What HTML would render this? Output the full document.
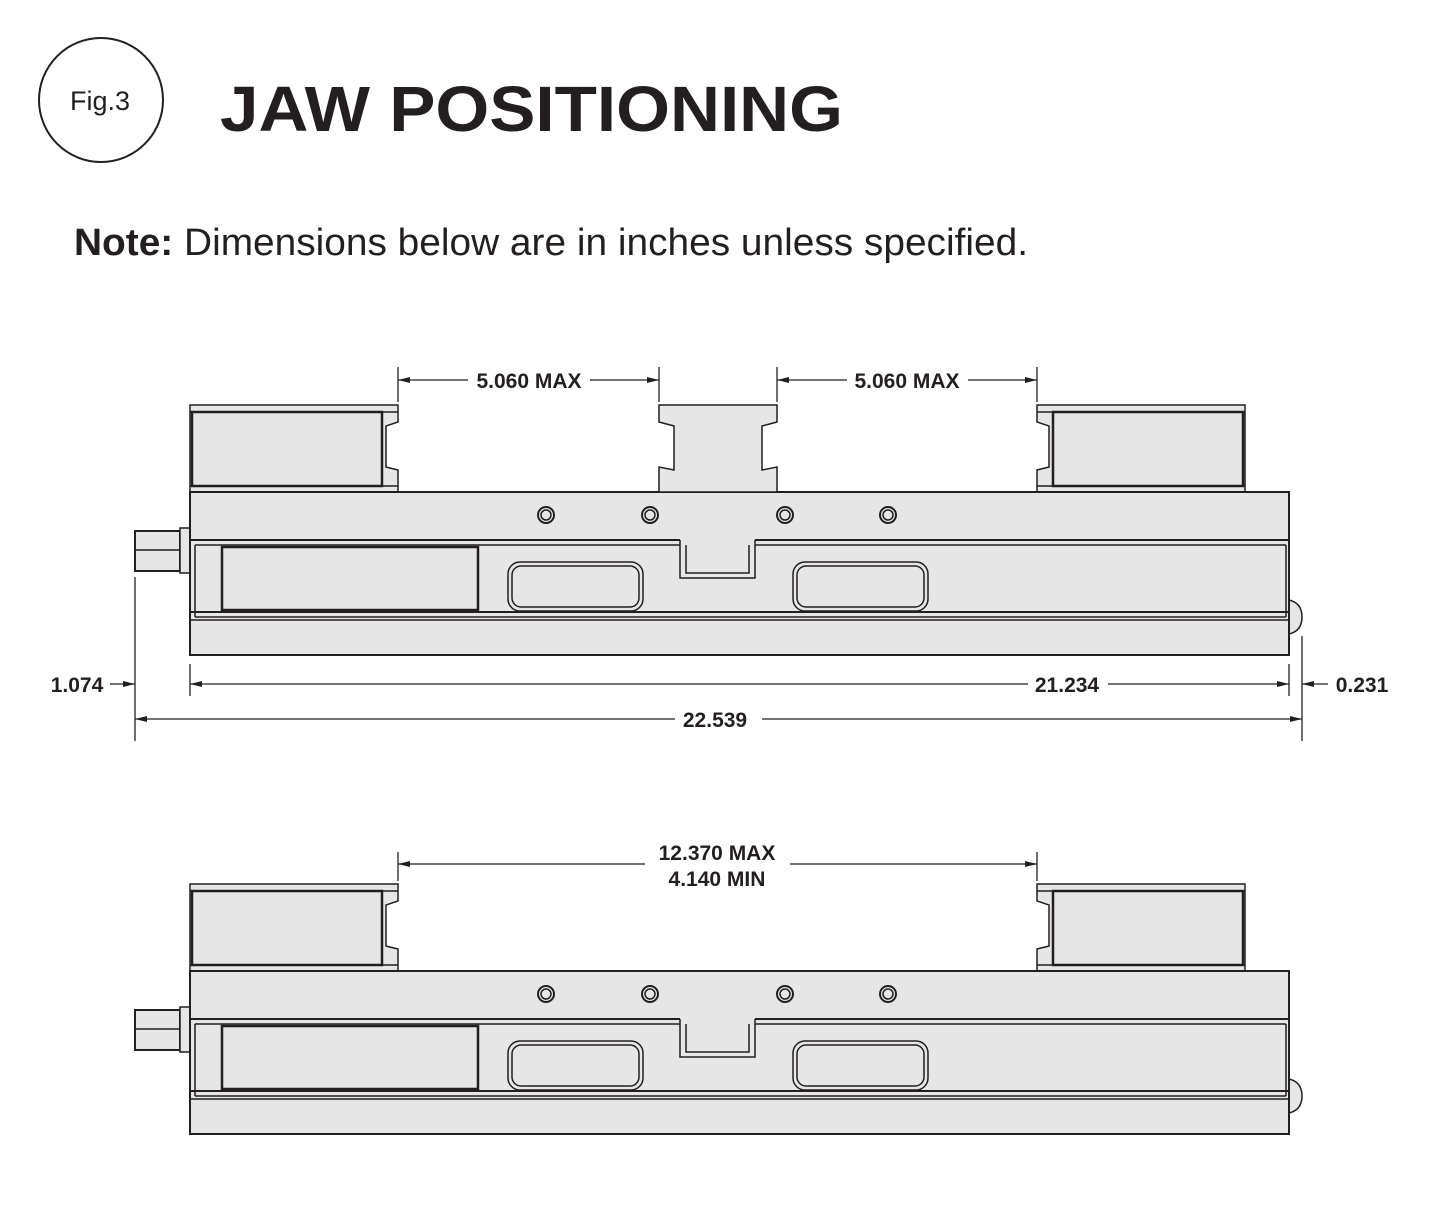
<!DOCTYPE html>
<html><head><meta charset="utf-8"><style>
html,body{margin:0;padding:0;background:#fff;width:1440px;height:1220px;overflow:hidden}
svg{display:block}
.d{font-family:"Liberation Sans",sans-serif;font-weight:bold;font-size:21px;fill:#231f20}
</style></head><body>
<svg width="1440" height="1220" viewBox="0 0 1440 1220" xmlns="http://www.w3.org/2000/svg">
<defs>
<marker id="ar" viewBox="0 0 12 6" refX="12" refY="3" markerWidth="12" markerHeight="6" orient="auto" markerUnits="userSpaceOnUse"><path d="M0,0 L12,3 L0,6 z" fill="#231f20"/></marker>
<g id="vise" stroke="#231f20" fill="#e6e6e7" stroke-width="1.5">
  <path d="M190,405 H398 V422 L386,426 V467 L398,470 V492 H190 Z"/>
  <line x1="190" y1="412" x2="398" y2="412"/>
  <line x1="190" y1="486" x2="398" y2="486"/>
  <rect x="192" y="412" width="190" height="74" stroke-width="2.5"/>
  <path d="M1245,405 H1037 V422 L1049,426 V467 L1037,470 V492 H1245 Z"/>
  <line x1="1037" y1="412" x2="1245" y2="412"/>
  <line x1="1037" y1="486" x2="1245" y2="486"/>
  <rect x="1053" y="412" width="190" height="74" stroke-width="2.5"/>
  <rect x="135" y="531" width="45" height="40" stroke-width="2"/>
  <line x1="135" y1="550" x2="180" y2="550"/>
  <rect x="180" y="528" width="10" height="45"/>
  <path d="M1289,600 Q1302,603 1302,617 Q1302,631 1289,634 Z"/>
  <rect x="190" y="492" width="1099" height="163" stroke-width="2"/>
  <line x1="190" y1="540" x2="680" y2="540" stroke-width="2"/>
  <line x1="755" y1="540" x2="1289" y2="540" stroke-width="2"/>
  <line x1="195" y1="545" x2="686" y2="545"/>
  <line x1="749" y1="545" x2="1286" y2="545"/>
  <line x1="190" y1="612" x2="1289" y2="612" stroke-width="2"/>
  <line x1="195" y1="617" x2="1286" y2="617"/>
  <line x1="195" y1="545" x2="195" y2="617"/>
  <line x1="1286" y1="545" x2="1286" y2="617"/>
  <path d="M680,540 V578 H755 V540" fill="#e6e6e7"/>
  <path d="M686,545 V573 H749 V545" fill="none"/>
  <rect x="222" y="547" width="256" height="63" stroke-width="2.5"/>
  <rect x="508" y="562" width="135" height="49" rx="12"/>
  <rect x="512" y="566" width="127" height="41" rx="9"/>
  <rect x="793" y="562" width="135" height="49" rx="12"/>
  <rect x="797" y="566" width="127" height="41" rx="9"/>
  <line x1="190" y1="620" x2="1289" y2="620"/>
  <circle cx="546" cy="515" r="8" stroke-width="2"/><circle cx="546" cy="515" r="5"/>
  <circle cx="650" cy="515" r="8" stroke-width="2"/><circle cx="650" cy="515" r="5"/>
  <circle cx="785" cy="515" r="8" stroke-width="2"/><circle cx="785" cy="515" r="5"/>
  <circle cx="888" cy="515" r="8" stroke-width="2"/><circle cx="888" cy="515" r="5"/>
</g>
</defs>

<circle cx="101" cy="100" r="62" fill="none" stroke="#231f20" stroke-width="2"/>
<text x="100" y="110" text-anchor="middle" font-family="Liberation Sans,sans-serif" font-size="27" fill="#231f20">Fig.3</text>
<text x="220" y="131" font-family="Liberation Sans,sans-serif" font-weight="bold" font-size="64" fill="#231f20" textLength="623" lengthAdjust="spacingAndGlyphs">JAW POSITIONING</text>
<text x="74" y="255" font-family="Liberation Sans,sans-serif" font-size="38" fill="#231f20" textLength="954" lengthAdjust="spacingAndGlyphs"><tspan font-weight="bold">Note:</tspan> Dimensions below are in inches unless specified.</text>

<use href="#vise"/>
<path d="M659,405 H777 V422 L762,426 V470 L777,467 V492 H659 V467 L674,470 V426 L659,422 Z" stroke="#231f20" fill="#e6e6e7" stroke-width="1.5"/>
<use href="#vise" transform="translate(0,479)"/>

<g stroke="#231f20" stroke-width="1.3" fill="none">
  <line x1="398" y1="367" x2="398" y2="402"/><line x1="659" y1="367" x2="659" y2="402"/>
  <line x1="777" y1="367" x2="777" y2="402"/><line x1="1037" y1="367" x2="1037" y2="402"/>
  <line x1="468" y1="380" x2="398" y2="380" marker-end="url(#ar)"/>
  <line x1="590" y1="380" x2="659" y2="380" marker-end="url(#ar)"/>
  <line x1="847" y1="380" x2="777" y2="380" marker-end="url(#ar)"/>
  <line x1="968" y1="380" x2="1037" y2="380" marker-end="url(#ar)"/>
  <line x1="135" y1="577" x2="135" y2="741"/>
  <line x1="190" y1="664" x2="190" y2="696"/>
  <line x1="1289" y1="664" x2="1289" y2="696"/>
  <line x1="1302" y1="636" x2="1302" y2="741"/>
  <line x1="110" y1="684" x2="135" y2="684" marker-end="url(#ar)"/>
  <line x1="1028" y1="684" x2="190" y2="684" marker-end="url(#ar)"/>
  <line x1="1108" y1="684" x2="1289" y2="684" marker-end="url(#ar)"/>
  <line x1="1328" y1="684" x2="1302" y2="684" marker-end="url(#ar)"/>
  <line x1="675" y1="719" x2="135" y2="719" marker-end="url(#ar)"/>
  <line x1="762" y1="719" x2="1302" y2="719" marker-end="url(#ar)"/>
  <line x1="398" y1="852" x2="398" y2="881"/><line x1="1037" y1="852" x2="1037" y2="881"/>
  <line x1="645" y1="864" x2="398" y2="864" marker-end="url(#ar)"/>
  <line x1="790" y1="864" x2="1037" y2="864" marker-end="url(#ar)"/>
</g>
<text class="d" x="529" y="388" text-anchor="middle">5.060 MAX</text>
<text class="d" x="907" y="388" text-anchor="middle">5.060 MAX</text>
<text class="d" x="77" y="692" text-anchor="middle">1.074</text>
<text class="d" x="1067" y="692" text-anchor="middle">21.234</text>
<text class="d" x="1362" y="692" text-anchor="middle">0.231</text>
<text class="d" x="715" y="727" text-anchor="middle">22.539</text>
<text class="d" x="717" y="860" text-anchor="middle">12.370 MAX</text>
<text class="d" x="717" y="886" text-anchor="middle">4.140 MIN</text>
</svg>
</body></html>
